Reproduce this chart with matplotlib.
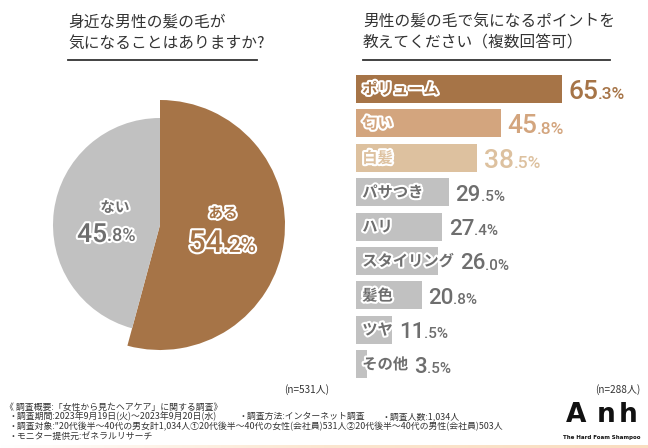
import numpy as np
import matplotlib
matplotlib.use('Agg')
import matplotlib.pyplot as plt
import matplotlib.patheffects as pe

plt.rcParams['font.family'] = ['Noto Sans CJK JP', 'DejaVu Sans']

# data
pie_labels = ['ある', 'ない']
pie_values = [54.2, 45.8]
pie_colors = ['#A67447', '#C1C1C1']
pie_text_colors = ['#A67447', '#6E6E6E']

items = ['ポリューム', '匂い', '白髪', 'パサつき', 'ハリ', 'スタイリング', '髪色', 'ツヤ', 'その他']
item_values = [65.3, 45.8, 38.5, 29.5, 27.4, 26.0, 20.8, 11.5, 3.5]
bar_colors = ['#A67447', '#D3A57E', '#DDC19F'] + ['#C1C1C1'] * 6
value_colors = ['#A67447', '#D3A57E', '#DDC19F'] + ['#6E6E6E'] * 6
label_colors = ['#A67447', '#D3A57E', '#DDC19F'] + ['#6E6E6E'] * 6

title_left = ['身近な男性の髪の毛が', '気になることはありますか?']
title_right = ['男性の髪の毛で気になるポイントを', '教えてください（複数回答可）']
n_left = '(n=531人)'
n_right = '(n=288人)'
notes = [
    '《 調査概要:「女性から見たヘアケア」に関する調査》',
    '・調査期間:2023年9月19日(火)～2023年9月20日(水)',
    '・調査対象:"20代後半～40代の男女計1,034人①20代後半～40代の女性(会社員)531人②20代後半～40代の男性(会社員)503人',
    '・モニター提供元:ゼネラルリサーチ',
]
note_method = '・調査方法:インターネット調査'
note_count = '・調査人数:1,034人'

W, H = 648, 448
num_font = ['Roboto', 'DejaVu Sans']
stroke = [pe.withStroke(linewidth=3, foreground='white')]

fig = plt.figure(figsize=(W / 100, H / 100), dpi=100)
fig.patch.set_facecolor('white')


def fx(x):
    return x / W


def fy(y):
    return 1 - y / H


def split_num(v):
    s = f'{v:.1f}'
    a, b = s.split('.')
    return a, '.' + b + '%'


# titles
for x0, lines, x1 in [(68, title_left, 257), (363, title_right, 610)]:
    for i, t in enumerate(lines):
        fig.text(fx(x0), fy(22 + 21 * i), t, fontsize=11.3, color='#333333',
                 ha='left', va='center')
    fig.add_artist(plt.Line2D([fx(x0), fx(x1)], [fy(60), fy(60)], color='#333333', lw=1.3))

# pie
ax = fig.add_axes([fx(25), fy(360), 270 / W, 270 / H])
wedges, _ = ax.pie(pie_values, colors=pie_colors, startangle=90, counterclock=False,
                   radius=107, wedgeprops=dict(linewidth=0))
wedges[0].set_radius(125)
ax.set_xlim(-135, 135)
ax.set_ylim(-135, 135)
ax.set_aspect('equal')
ax.axis('off')

pie_pos = [(63, 12, -27, 22, 15), (-53, 18, -17, 19, 13)]
for lab, v, c, (xr, yl, yb, big, small) in zip(pie_labels, pie_values, pie_text_colors, pie_pos):
    a, b = split_num(v)
    t1 = ax.text(xr, yb, a, fontsize=big, color=c, ha='right', va='baseline',
                 family=num_font, fontweight='medium', path_effects=stroke)
    ax.annotate(b, xy=(1, 0), xycoords=t1, xytext=(0, 1.5), textcoords='offset points',
                fontsize=small, color=c, ha='left', va='bottom', family=num_font,
                fontweight='medium', path_effects=stroke)
    ax.text(xr + 8 if c == '#6E6E6E' else xr, yl, lab, fontsize=10.5, fontweight='bold',
            color=c, ha='center', va='center', path_effects=stroke)

# bars
bx = fig.add_axes([fx(356), fy(381.4), 284 / W, 309.6 / H])
ypos = np.arange(len(items))
bx.barh(ypos, item_values, height=0.81, color=bar_colors)
bx.set_xlim(0, 90)
bx.set_ylim(len(items) - 0.5, -0.5)
bx.axis('off')

label_texts = []
for i, lab in enumerate(items):
    t = bx.annotate(lab, xy=(0, i), xytext=(4.5, 0), textcoords='offset points',
                    fontsize=11, fontweight='bold', color=label_colors[i],
                    ha='left', va='center', path_effects=stroke)
    label_texts.append(t)

fig.canvas.draw()
renderer = fig.canvas.get_renderer()
inv = bx.transData.inverted()

for i, v in enumerate(item_values):
    ext = label_texts[i].get_window_extent(renderer)
    label_end = inv.transform((ext.x1, 0))[0]
    start = max(v, label_end)
    a, b = split_num(v)
    big, small, drop = (19, 12.5, -7.2) if i < 3 else (16, 11, -6)
    t1 = bx.annotate(a, xy=(start, i), xytext=(4.5, drop), textcoords='offset points',
                     fontsize=big, color=value_colors[i], ha='left', va='baseline',
                     family=num_font, fontweight='medium')
    bx.annotate(b, xy=(1, 0), xycoords=t1, xytext=(0, 1.2), textcoords='offset points',
                fontsize=small, color=value_colors[i], ha='left', va='bottom',
                family=num_font, fontweight='medium')

# n labels
fig.text(fx(307), fy(390), n_left, fontsize=7.2, color='#333333', ha='center', va='center')
fig.text(fx(618), fy(390), n_right, fontsize=7.2, color='#333333', ha='center', va='center')

# notes
for i, t in enumerate(notes):
    fig.text(fx(5 if i == 0 else 9), fy(407 + 9.8 * i), t, fontsize=6.4, color='#333333',
             ha='left', va='center')
fig.text(fx(238), fy(416.8), note_method, fontsize=6.4, color='#333333', ha='left', va='center')
fig.text(fx(382), fy(416.8), note_count, fontsize=6.4, color='#333333', ha='left', va='center')

# logo
for ch, x in zip('Anh', [576, 606, 628]):
    fig.text(fx(x), fy(415), ch, fontsize=19, fontweight='bold', color='#111111',
             family=['DejaVu Sans'], ha='center', va='center')
fig.text(fx(602), fy(437), 'The Hard Foam Shampoo', fontsize=4, fontweight='bold',
         color='#111111', family=['DejaVu Sans'], ha='center', va='center')

# bottom line
lx = fig.add_axes([0, 0, 1, 3 / H])
grad = np.linspace(0, 1, 256).reshape(1, -1)
lx.imshow(grad, aspect='auto', cmap=matplotlib.colors.LinearSegmentedColormap.from_list(
    'peach', ['#FFFFFF', '#FBE6D0', '#F9DDC0']), extent=[0, 1, 0, 1])
lx.axis('off')

fig.savefig('out.png', dpi=100, facecolor='white')
